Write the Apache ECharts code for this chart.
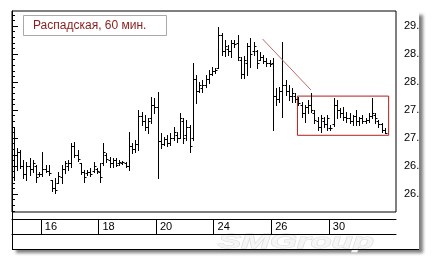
<!DOCTYPE html>
<html><head><meta charset="utf-8">
<script src="https://cdn.jsdelivr.net/npm/echarts@6/dist/echarts.min.js"></script>
<style>html,body{margin:0;padding:0;background:#fff}#c{width:432px;height:261px}</style>
</head><body><div id="c"></div>
<script>
// hourly OHLC bars (index = bar number, 9 bars per trading day)
const opens = [27.10,26.70,26.75,26.50,26.35,26.50,26.45,26.50,26.35,
26.35,26.45,26.42,26.25,26.10,26.20,26.30,26.45,26.50,
26.55,26.85,26.70,26.55,26.40,26.38,26.40,26.42,26.45,
26.40,26.55,26.70,26.60,26.55,26.60,26.55,26.56,26.55,
26.50,26.85,26.80,26.90,27.40,27.30,27.20,27.35,27.60,
27.55,26.95,26.90,26.98,26.92,27.00,27.05,27.00,27.30,
27.05,27.20,27.00,28.05,27.85,27.90,27.95,28.05,28.15,
28.20,28.25,28.85,28.55,28.60,28.55,28.70,28.70,28.40,
28.15,28.35,28.65,28.55,28.55,28.40,28.45,28.38,28.35,
28.35,27.75,27.70,27.85,27.95,27.85,27.75,27.75,27.70,
27.60,27.45,27.55,27.60,27.45,27.30,27.20,27.30,27.25,
27.18,27.25,27.60,27.50,27.45,27.38,27.35,27.30,27.40,
27.30,27.35,27.30,27.33,27.40,27.42,27.30,27.25,27.15];
const highs = [27.18,26.82,26.79,26.61,26.57,26.64,26.61,26.52,26.39,
26.75,26.52,26.52,26.25,26.29,26.39,26.52,26.59,26.61,
26.91,26.93,26.79,26.55,26.43,26.43,26.46,26.57,26.46,
26.55,26.91,26.73,26.66,26.64,26.64,26.61,26.59,26.57,
27.11,26.91,26.96,27.50,27.46,27.41,27.36,27.73,27.71,
27.82,27.09,27.02,27.05,27.09,27.20,27.11,27.45,27.36,
27.32,27.23,28.34,28.13,28.00,28.04,28.13,28.21,28.27,
28.25,28.98,28.88,28.75,28.66,28.75,28.75,28.84,28.45,
28.46,28.70,28.79,28.71,28.57,28.54,28.48,28.43,28.39,
28.43,27.89,27.91,28.71,28.04,27.95,27.89,27.80,27.73,
27.64,27.59,27.68,27.80,27.50,27.38,27.41,27.38,27.41,
27.23,27.71,27.68,27.54,27.55,27.46,27.45,27.41,27.50,
27.38,27.41,27.36,27.45,27.71,27.45,27.32,27.27,27.18];
const lows = [26.25,26.43,26.46,26.29,26.25,26.34,26.39,26.21,26.32,
26.32,26.39,26.34,26.05,26.02,26.20,26.20,26.38,26.43,
26.48,26.66,26.59,26.36,26.21,26.34,26.32,26.39,26.38,
26.21,26.52,26.57,26.48,26.48,26.50,26.52,26.54,26.48,
26.43,26.73,26.75,26.79,27.23,27.14,27.09,27.27,27.45,
26.29,26.82,26.88,26.86,26.88,26.96,26.93,27.00,26.91,
26.96,26.75,26.96,27.63,27.82,27.82,27.91,27.98,28.13,
28.16,28.25,28.48,28.46,28.48,28.45,28.63,28.39,28.07,
28.07,28.13,28.27,28.48,28.25,28.39,28.34,28.29,28.29,
27.14,27.59,27.64,27.38,27.77,27.68,27.64,27.64,27.59,
27.38,27.29,27.45,27.46,27.27,27.14,27.11,27.20,27.14,
27.14,27.21,27.36,27.38,27.32,27.29,27.27,27.23,27.23,
27.23,27.27,27.27,27.29,27.36,27.27,27.20,27.11,27.09];
const closes = [26.70,26.75,26.50,26.35,26.50,26.45,26.55,26.30,26.35,
26.45,26.42,26.38,26.10,26.08,26.32,26.45,26.55,26.55,
26.85,26.70,26.62,26.40,26.30,26.40,26.35,26.50,26.42,
26.30,26.75,26.62,26.55,26.60,26.52,26.58,26.57,26.50,
26.85,26.80,26.90,27.40,27.30,27.20,27.30,27.60,27.55,
26.95,26.90,26.98,26.92,27.00,27.10,27.00,27.35,27.00,
27.20,26.85,28.05,27.85,27.95,27.95,28.05,28.15,28.20,
28.22,28.85,28.55,28.65,28.55,28.70,28.68,28.45,28.15,
28.40,28.65,28.50,28.65,28.35,28.45,28.38,28.35,28.32,
27.75,27.70,27.85,27.95,27.85,27.75,27.80,27.70,27.62,
27.45,27.55,27.60,27.50,27.32,27.20,27.35,27.25,27.35,
27.18,27.60,27.50,27.45,27.38,27.35,27.30,27.40,27.30,
27.35,27.30,27.33,27.40,27.45,27.35,27.25,27.15,27.09];

const dayStarts = [9, 27, 45, 63, 81, 99];
const dayLabels = ['16', '18', '20', '24', '26', '30'];
const priceLabels = [26, 26.5, 27, 27.5, 28, 28.5, 29];
const minorTicks = [25.7,25.8,25.9,26.0,26.1,26.2,26.3,26.4,26.5,26.6,26.7,26.8,26.9,27.0,27.1,27.2,27.3,27.4,27.5,27.6,27.7,27.8,27.9,28.0,28.1,28.2,28.3,28.4,28.5,28.6,28.7,28.8,28.9,29.0,29.1,29.2];
const lastPrice = 27.09;
const trendLine = [[78.3, 28.77], [93.4, 27.86]];
const rangeBox = [[89.2, 27.75], [117.7, 27.05]];
const titleText = 'Распадская, 60 мин.';

const FONT = 'Liberation Sans, Arial, sans-serif';
const bars = opens.map((o, i) => [i + 0.5, o, highs[i], lows[i], closes[i]]);

const chart = echarts.init(document.getElementById('c'), null, {renderer: 'canvas'});
chart.setOption({
  animation: false,
  backgroundColor: '#fff',
  title: {
    text: titleText, left: 23, top: 15,
    padding: [5, 20, 4, 10],
    borderColor: '#a8a8a8', borderWidth: 1, backgroundColor: '#fff',
    textStyle: {fontSize: 12, fontWeight: 'normal', color: '#8b1c1c', fontFamily: FONT}
  },
  graphic: [
    {type: 'rect', z: -100, shape: {x: 12, y: 11, width: 407, height: 238},
     style: {fill: '#fff', shadowBlur: 3, shadowColor: 'rgba(0,0,0,0.5)', shadowOffsetX: 4, shadowOffsetY: 4}},
    {type: 'line', shape: {x1: 12.5, y1: 212, x2: 12.5, y2: 249}, style: {stroke: '#000', lineWidth: 1}},
    {type: 'line', shape: {x1: 12, y1: 249.5, x2: 419, y2: 249.5}, style: {stroke: '#000', lineWidth: 1}},
    {type: 'text', x: 218, y: 232, scaleX: 1.65, z: -50,
     style: {text: 'SMGroup', font: 'italic bold 21px ' + FONT, fill: 'rgba(245,245,245,0.95)', stroke: '#dedede', lineWidth: 1}}
  ],
  grid: {left: 12, top: 11, width: 384, height: 201, show: true, borderColor: '#000', borderWidth: 1, backgroundColor: 'transparent'},
  xAxis: [
    {type: 'value', min: 0, max: 120, position: 'bottom', offset: 7,
     axisLine: {show: true, lineStyle: {color: '#000', width: 1}},
     axisTick: {show: true, customValues: dayStarts, length: 15, inside: false, lineStyle: {color: '#000'}},
     axisLabel: {show: true, customValues: dayStarts, margin: 2, align: 'left', padding: [0, 0, 0, 4],
       fontSize: 11, color: '#000', fontFamily: FONT,
       formatter: v => dayLabels[dayStarts.indexOf(v)] || ''},
     splitLine: {show: false}},
    {type: 'value', min: 0, max: 120, position: 'bottom', offset: 22,
     axisLine: {show: true, lineStyle: {color: '#000', width: 1}},
     axisTick: {show: false}, axisLabel: {show: false}, splitLine: {show: false}}
  ],
  yAxis: [
    {type: 'value', min: 25.68, max: 29.27, position: 'right',
     axisLine: {show: true, lineStyle: {color: '#000'}},
     axisTick: {show: true, customValues: priceLabels, length: 6, inside: false, lineStyle: {color: '#000'}},
     axisLabel: {show: true, customValues: priceLabels, margin: 8, fontSize: 11, color: '#000', fontFamily: FONT,
       formatter: v => Math.floor(v + 1e-9) + '.'},
     splitLine: {show: false}},
    {type: 'value', min: 25.68, max: 29.27, position: 'right',
     axisLine: {show: false},
     axisTick: {show: true, customValues: minorTicks, length: 3, inside: false, lineStyle: {color: '#000'}},
     axisLabel: {show: false}, splitLine: {show: false}}
  ],
  series: [{
    type: 'custom',
    xAxisIndex: 0, yAxisIndex: 0,
    data: bars,
    encode: {x: 0, y: [1, 2, 3, 4]},
    renderItem: (params, api) => {
      const x = api.value(0);
      const po = api.coord([x, api.value(1)]);
      const ph = api.coord([x, api.value(2)]);
      const pl = api.coord([x, api.value(3)]);
      const pc = api.coord([x, api.value(4)]);
      const cx = Math.round(po[0]) + 0.5;
      const yo = Math.round(po[1]) + 0.5, yc = Math.round(pc[1]) + 0.5;
      const st = {stroke: '#000', lineWidth: 1};
      return {type: 'group', children: [
        {type: 'line', shape: {x1: cx, y1: Math.round(ph[1]), x2: cx, y2: Math.round(pl[1]) + 1}, style: st},
        {type: 'line', shape: {x1: cx - 2, y1: yo, x2: cx, y2: yo}, style: st},
        {type: 'line', shape: {x1: cx, y1: yc, x2: cx + 2, y2: yc}, style: st}
      ]};
    },
    markLine: {
      symbol: 'none', silent: true, animation: false,
      data: [
        {yAxis: lastPrice, lineStyle: {opacity: 0},
         label: {show: true, position: 'end', distance: 5, formatter: p => Math.floor(p.value) + '.',
           fontSize: 11, color: '#000', fontFamily: FONT, backgroundColor: '#fff',
           borderColor: '#000', borderWidth: 1, padding: [1, 3, 0, 2]}},
        [{coord: trendLine[0], lineStyle: {color: '#c06a6a', width: 1, type: 'solid'}, label: {show: false}},
         {coord: trendLine[1]}]
      ]
    },
    markArea: {
      silent: true,
      itemStyle: {color: 'rgba(0,0,0,0)', borderColor: '#b41e1e', borderWidth: 1},
      data: [[{coord: rangeBox[0]}, {coord: rangeBox[1]}]]
    }
  }]
});
</script></body></html>
